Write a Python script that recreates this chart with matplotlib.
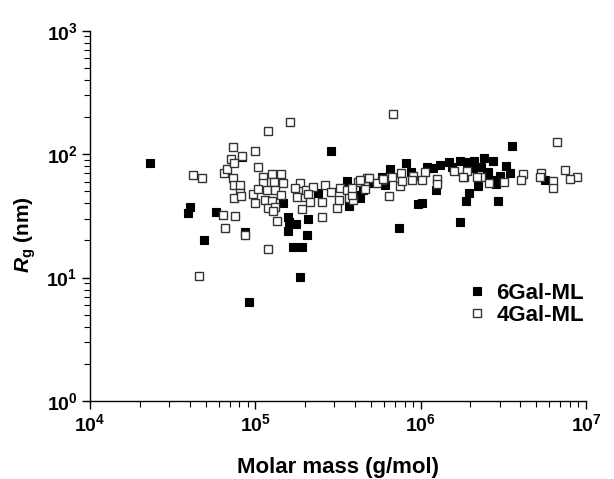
import matplotlib
matplotlib.use("Agg")
import matplotlib.pyplot as plt
from matplotlib.ticker import LogLocator, NullFormatter

plt.rcParams['font.family'] = ['Liberation Sans', 'DejaVu Sans']
plt.rcParams['font.weight'] = 'bold'
plt.rcParams['mathtext.fontset'] = 'custom'
plt.rcParams['mathtext.rm'] = 'Liberation Sans:bold'
plt.rcParams['mathtext.bf'] = 'Liberation Sans:bold'
plt.rcParams['mathtext.it'] = 'Liberation Sans:italic:bold'

# 6Gal-ML : molar mass (g/mol) and Rg (nm)
mm_6gal = [2.31e4, 4.03e4, 3.90e4, 5.78e4, 4.90e4, 8.67e4, 2.85e5, 1.48e5, 1.57e5, 1.60e5,
           1.77e5, 1.58e5, 2.09e5, 2.05e5, 1.70e5, 1.91e5, 1.86e5, 9.10e4, 8.28e4, 3.56e5,
           2.40e5, 3.69e5, 4.09e5, 7.38e5, 1.72e6, 8.17e5, 6.53e5, 6.10e5, 4.30e5, 1.24e6,
           9.68e5, 1.02e6, 1.89e6, 1.96e6, 2.95e6, 3.58e6, 5.66e6, 1.09e6, 1.31e6, 1.48e6,
           1.73e6, 1.90e6, 2.10e6, 2.42e6, 2.75e6, 3.27e6, 3.48e6, 2.08e6, 2.32e6, 2.51e6,
           2.75e6, 2.23e6, 2.84e6, 8.69e5, 1.19e6, 5.82e5, 5.18e5, 4.50e5, 1.90e6, 2.57e6,
           1.55e6, 3.02e6]
rg_6gal = [85.3, 37.6, 33.2, 34.2, 20.1, 23.2, 106, 40.5, 31.0, 28.0,
           27.0, 23.7, 29.8, 22.3, 17.6, 17.6, 10.2, 6.32, 95.4, 60.7,
           48.2, 38.1, 46.7, 25.3, 28.1, 85.3, 75.5, 55.8, 43.8, 51.3,
           39.1, 40.0, 41.4, 48.2, 41.8, 116, 61.2, 78.8, 81.0, 85.7,
           88.1, 86.5, 88.1, 92.3, 87.6, 79.8, 70.0, 76.9, 78.0, 69.1,
           61.8, 55.0, 57.4, 71.1, 76.9, 65.7, 58.8, 51.3, 74.5, 72.2,
           78.8, 66.6]

# 4Gal-ML
mm_4gal = [4.22e4, 4.78e4, 7.30e4, 8.28e4, 7.13e4, 6.47e4, 6.71e4, 7.46e4, 7.30e4, 7.43e4,
           8.07e4, 8.13e4, 7.46e4, 8.22e4, 6.40e4, 7.50e4, 6.53e4, 8.67e4, 4.58e4, 9.96e4,
           1.19e5, 1.62e5, 1.04e5, 1.11e5, 1.26e5, 1.43e5, 1.12e5, 1.29e5, 1.47e5, 9.73e4,
           1.04e5, 1.17e5, 1.32e5, 1.42e5, 9.96e4, 1.14e5, 1.26e5, 1.20e5, 1.32e5, 1.28e5,
           1.35e5, 1.20e5, 1.85e5, 1.74e5, 1.78e5, 2.00e5, 2.03e5, 2.24e5, 2.09e5, 1.91e5,
           2.14e5, 2.54e5, 2.64e5, 2.52e5, 2.85e5, 3.25e5, 3.10e5, 3.22e5, 3.57e5, 3.66e5,
           3.90e5, 4.20e5, 4.72e5, 6.78e5, 6.65e6, 4.90e5, 5.82e5, 6.47e5, 7.59e5, 8.95e5,
           1.06e6, 1.26e6, 1.26e6, 1.58e6, 1.83e6, 1.90e6, 2.31e6, 2.60e6, 3.21e6, 4.18e6,
           4.05e6, 5.38e6, 5.25e6, 6.35e6, 6.28e6, 7.48e6, 8.79e6, 8.02e6, 7.50e5, 8.83e5,
           4.61e5, 4.30e5, 5.42e5, 5.94e5, 6.68e5, 7.69e5, 1.02e6, 3.83e5, 3.83e5, 2.18e6,
           1.81e6]
rg_4gal = [67.5, 63.8, 114, 96.7, 91.4, 70.8, 75.5, 84.1, 64.2, 55.8,
           56.3, 48.5, 44.2, 45.4, 32.2, 31.3, 25.1, 22.2, 10.3, 107,
           155, 181, 78.3, 65.0, 69.1, 69.1, 58.1, 59.0, 58.5, 47.2,
           52.0, 51.3, 50.8, 46.7, 40.5, 42.8, 41.4, 36.9, 37.2, 34.7,
           28.8, 17.0, 58.5, 53.0, 44.6, 45.3, 51.3, 54.0, 47.6, 35.8,
           41.0, 31.2, 56.6, 41.3, 49.2, 53.2, 36.7, 42.9, 51.3, 44.0,
           42.9, 59.9, 63.8, 213, 125, 64.2, 62.2, 46.0, 70.8, 66.9,
           71.8, 62.8, 57.8, 73.4, 65.0, 72.7, 65.7, 58.5, 59.8, 68.9,
           62.3, 70.8, 64.7, 60.1, 53.4, 74.5, 65.7, 62.6, 55.3, 61.8,
           52.3, 61.8, 58.1, 62.6, 65.7, 61.0, 61.8, 46.7, 53.0, 65.7,
           65.7]

fig = plt.figure(figsize=(6.14, 4.79), dpi=100)
ax = fig.add_axes([0.1466, 0.1628, 0.8078, 0.7731])

ax.plot(mm_6gal, rg_6gal, 's', ms=6, mfc='black', mec='black', mew=0.8,
        label='6Gal-ML', zorder=3)
ax.plot(mm_4gal, rg_4gal, 's', ms=6, mfc='white', mec='#333333', mew=1.0,
        label='4Gal-ML', zorder=4)

ax.set_xscale('log')
ax.set_yscale('log')
ax.set_xlim(1e4, 1e7)
ax.set_ylim(1, 1e3)

ax.xaxis.set_minor_locator(LogLocator(base=10, subs=range(2, 10), numticks=20))
ax.yaxis.set_minor_locator(LogLocator(base=10, subs=range(2, 10), numticks=20))
ax.xaxis.set_minor_formatter(NullFormatter())
ax.yaxis.set_minor_formatter(NullFormatter())

for s in ['top', 'right']:
    ax.spines[s].set_visible(False)
for s in ['left', 'bottom']:
    ax.spines[s].set_linewidth(1.0)

ax.tick_params(which='major', direction='out', length=6, width=1.0, labelsize=14, pad=3)
ax.tick_params(which='minor', direction='out', length=4, width=0.8)

ax.set_xlabel('Molar mass (g/mol)', fontsize=16, fontweight='bold')
ax.xaxis.set_label_coords(0.5, -0.15)
ax.set_ylabel(r'$\mathit{R}_{\mathrm{g}}$ (nm)', fontsize=15, fontweight='bold')
ax.yaxis.set_label_coords(-0.105, 0.45)

ax.legend(loc='center left', bbox_to_anchor=(0.739, 0.2614), frameon=False,
          fontsize=16, handletextpad=0.4, handlelength=1.0, labelspacing=0.05,
          borderaxespad=0)

fig.savefig('out.png', dpi=100)
